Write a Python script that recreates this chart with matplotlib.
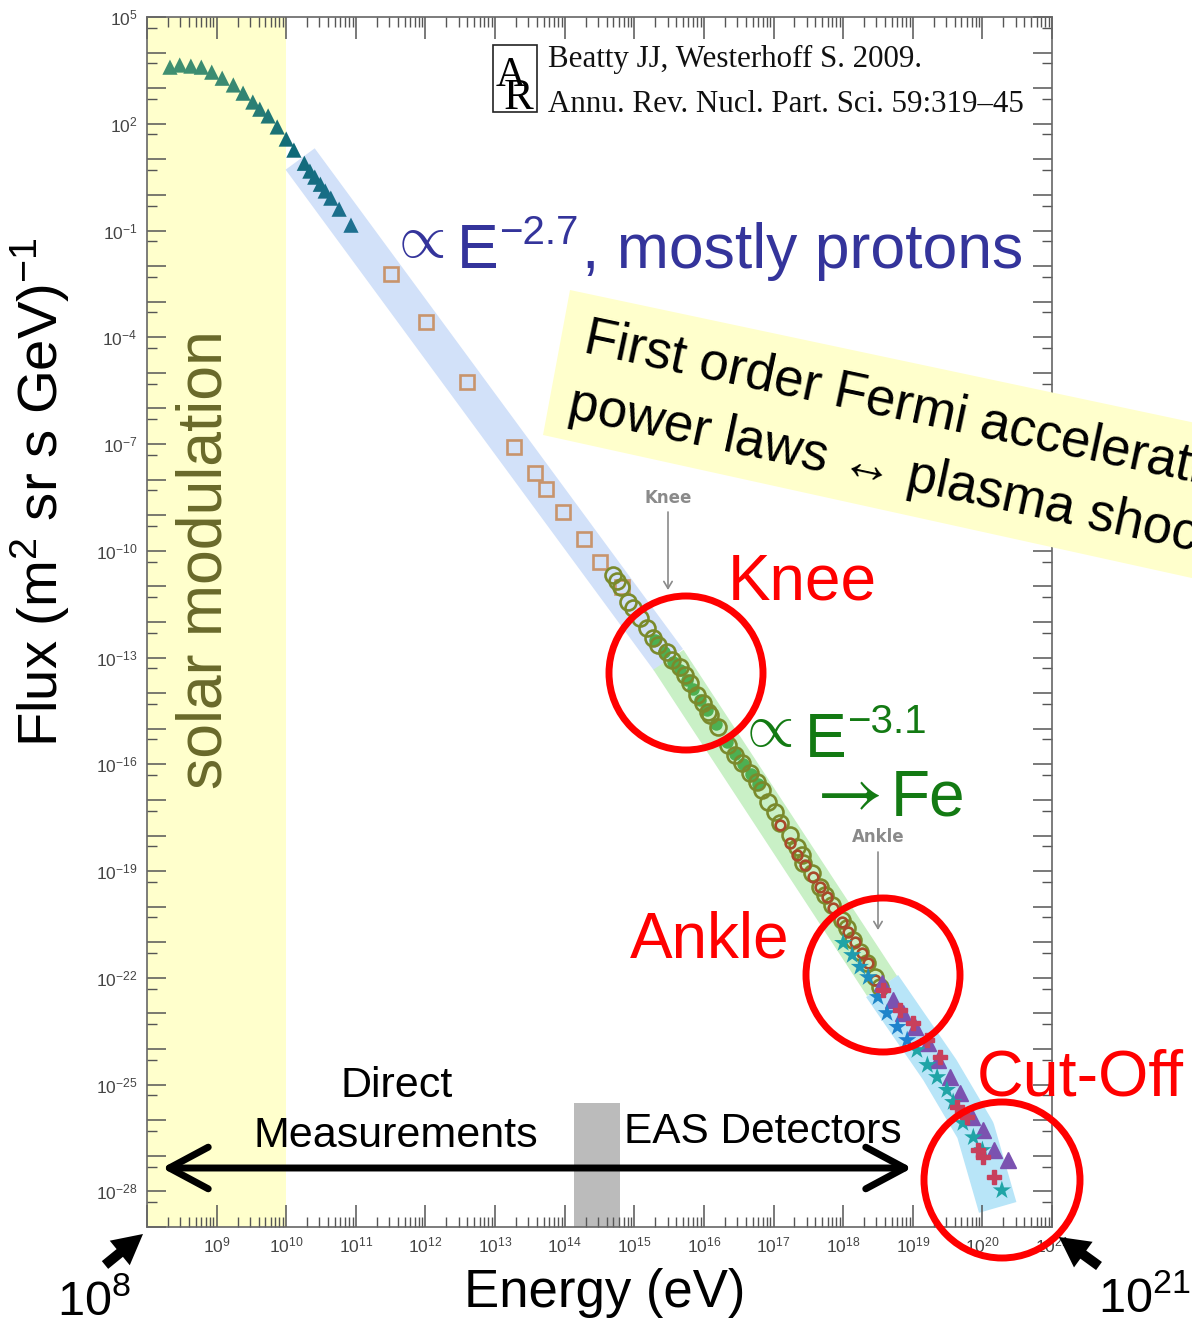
import numpy as np
import matplotlib
matplotlib.use('Agg')
import matplotlib.pyplot as plt
from matplotlib.patches import Ellipse, Polygon, Rectangle, FancyArrowPatch
from matplotlib.ticker import FixedLocator, FuncFormatter, NullFormatter
from matplotlib.colors import LinearSegmentedColormap

# ---------------- data (log10 E [eV], log10 flux) ----------------
tri_logE = [8.33, 8.47, 8.63, 8.78, 8.93, 9.08, 9.24, 9.38, 9.52, 9.62, 9.74,
            9.87, 10.00, 10.11, 10.26, 10.34, 10.41, 10.49, 10.56, 10.64, 10.76, 10.93]
tri_logF = [3.59, 3.65, 3.62, 3.59, 3.45, 3.28, 3.09, 2.86, 2.61, 2.41, 2.22,
            1.91, 1.57, 1.26, 0.89, 0.67, 0.50, 0.30, 0.11, -0.09, -0.40, -0.85]

sq_logE = [11.51, 12.01, 12.60, 13.27, 13.57, 13.73, 13.98, 14.28, 14.51, 14.82]
sq_logF = [-2.23, -3.58, -5.27, -7.07, -7.80, -8.25, -8.92, -9.66, -10.30, -11.03]

circ_logE = [14.70, 14.75, 14.81, 14.91, 14.98, 15.08, 15.18, 15.27, 15.34, 15.47,
             15.54, 15.66, 15.73, 15.80, 15.90, 15.99, 16.06, 16.09, 16.20, 16.35,
             16.45, 16.55, 16.66, 16.76, 16.84, 16.92, 17.02, 17.09, 17.24, 17.34,
             17.41, 17.43, 17.55, 17.67, 17.74, 17.84, 17.99, 18.06, 18.14, 18.24,
             18.34, 18.46, 18.53]
circ_logF = [-10.67, -10.86, -11.03, -11.43, -11.60, -11.88, -12.16, -12.44, -12.64, -12.83,
             -13.06, -13.26, -13.48, -13.71, -14.04, -14.27, -14.52, -14.61, -14.94, -15.45,
             -15.73, -15.96, -16.24, -16.49, -16.72, -17.05, -17.33, -17.64, -17.98, -18.32,
             -18.54, -18.77, -19.05, -19.44, -19.67, -19.95, -20.37, -20.60, -20.94, -21.27,
             -21.58, -21.98, -22.26]

green_logE = [15.30, 15.42, 15.55, 15.66, 15.75, 15.85, 15.95, 16.05, 16.17, 16.33,
              16.45, 16.56, 16.67, 16.78]
green_logF = [-12.50, -12.85, -13.12, -13.35, -13.62, -13.88, -14.18, -14.46, -14.86, -15.38,
              -15.72, -15.98, -16.28, -16.56]

brown_logE = [17.09, 17.24, 17.34, 17.45, 17.57, 17.67, 17.77, 17.86, 17.99, 18.07,
              18.17, 18.27, 18.36, 18.46]
brown_logF = [-17.70, -18.21, -18.54, -18.83, -19.16, -19.44, -19.72, -20.03, -20.43, -20.71,
              -20.99, -21.30, -21.58, -22.06]

star_logE = [18.00, 18.13, 18.24, 18.36, 18.50, 18.63, 18.78, 18.92, 19.06, 19.21,
             19.35, 19.49, 19.58, 19.72, 19.87, 20.00, 20.28]
star_logF = [-21.02, -21.36, -21.69, -21.98, -22.54, -22.99, -23.38, -23.75, -24.03, -24.45,
             -24.79, -25.15, -25.49, -26.08, -26.48, -26.84, -27.97]

ptri_logE = [18.56, 18.72, 18.86, 19.03, 19.22, 19.36, 19.54, 19.68, 19.85, 20.01, 20.16, 20.37]
ptri_logF = [-22.14, -22.62, -22.99, -23.38, -23.83, -24.31, -24.79, -25.24, -25.91, -26.28,
             -26.84, -27.12]

cross_logE = [18.57, 18.82, 19.01, 19.21, 19.39, 19.64, 19.78, 19.93, 20.01, 20.16]
cross_logF = [-22.34, -22.90, -23.27, -23.75, -24.23, -25.63, -25.91, -26.84, -27.04, -27.60]

# guide bands (log10 E, log10 flux)
band_blue_logE = [10.20, 15.49]
band_blue_logF = [1.01, -13.06]
band_green_logE = [15.49, 18.56]
band_green_logF = [-13.06, -22.23]
band_cyan_logE = [18.56, 19.39, 19.90, 20.22]
band_cyan_logF = [-22.23, -24.59, -26.28, -28.45]

x_label_exps = list(range(9, 22))
y_label_exps = list(range(5, -29, -3))

# ---------------- figure ----------------
W, H = 1192, 1319
plt.rcParams['font.family'] = ['Liberation Sans', 'DejaVu Sans']
plt.rcParams['mathtext.fontset'] = 'custom'
plt.rcParams['mathtext.rm'] = 'Liberation Sans'
plt.rcParams['mathtext.it'] = 'Liberation Sans:italic'
plt.rcParams['mathtext.bf'] = 'Liberation Sans:bold'

fig = plt.figure(figsize=(W / 100, H / 100), dpi=100)
fig.patch.set_facecolor('white')

def fx(px):
    return px / W

def fy(py):
    return 1 - py / H

ax = fig.add_axes([fx(147), fy(1227), (1052 - 147) / W, (1227 - 17) / H])
ax.set_xscale('log')
ax.set_yscale('log')
ax.set_xlim(1e8, 1e21)
ax.set_ylim(1e-29, 1e5)

p = lambda a: 10.0 ** np.asarray(a)

# background regions
ax.axvspan(1e8, 1e10, color='#ffffcc', zorder=0, lw=0)
ax.axvspan(10 ** 14.13, 10 ** 14.79, ymin=0, ymax=(1227 - 1103) / 1210,
           color='#bbbbbb', zorder=0.5, lw=0)

# bands
ax.plot(p(band_blue_logE), p(band_blue_logF), color='#d2e1f9', lw=26,
        solid_capstyle='butt', zorder=1)
ax.plot(p(band_green_logE), p(band_green_logF), color='#c9f0c6', lw=26,
        solid_capstyle='butt', zorder=1.1)
ax.plot(p(band_cyan_logE), p(band_cyan_logF), color='#b8e5f8', lw=28,
        solid_capstyle='butt', solid_joinstyle='round', zorder=1.2)

# data
cmap_tri = LinearSegmentedColormap.from_list('tri', ['#3f9070', '#3a8a72', '#0f6a78', '#1f7092'])
tri_cols = [cmap_tri(min(max((e - 8.3) / 2.7, 0), 1)) for e in tri_logE]
ax.scatter(p(tri_logE), p(tri_logF), marker='^', s=120, c=tri_cols, lw=0, zorder=3)

ax.plot(p(sq_logE), p(sq_logF), ls='none', marker='s', ms=10, mfc='none',
        mec='#c8946c', mew=1.9, zorder=3)

ax.plot(p(green_logE), p(green_logF), ls='none', marker='o', ms=9, mfc='#4db052',
        mec='#4db052', mew=0, zorder=3)
ax.plot(p(circ_logE), p(circ_logF), ls='none', marker='o', ms=11.5, mfc='none',
        mec='#7a8a2c', mew=1.9, zorder=3.2)
ax.plot(p(brown_logE), p(brown_logF), ls='none', marker='o', ms=7, mfc='none',
        mec='#a84a2a', mew=1.9, zorder=3.3)

cmap_star = LinearSegmentedColormap.from_list('star', ['#1fa4a6', '#1e86c8', '#1e7fd0'])
star_cols = [cmap_star(min(max((e - 18.0) / 1.0, 0), 1)) for e in star_logE]
ax.scatter(p(star_logE), p(star_logF), marker='*', s=190, c=star_cols, lw=0, zorder=3.4)
ax.plot(p(ptri_logE), p(ptri_logF), ls='none', marker='^', ms=11, mfc='#7b52b0',
        mec='#7b52b0', zorder=3.3)
ax.plot(p(cross_logE), p(cross_logF), ls='none', marker='P', ms=10, mfc='#c8405c',
        mec='#c8405c', zorder=3.5)

# axes style
for s in ax.spines.values():
    s.set_color('#666666')
    s.set_linewidth(1.2)

ax.xaxis.set_major_locator(FixedLocator(10.0 ** np.arange(8, 22)))
ax.xaxis.set_minor_locator(FixedLocator([m * 10.0 ** k for k in range(8, 21) for m in range(2, 10)]))
ax.yaxis.set_major_locator(FixedLocator(10.0 ** np.arange(-29, 6)))
ax.yaxis.set_minor_locator(FixedLocator([5 * 10.0 ** k for k in range(-29, 5)]))

def xfmt(v, pos):
    k = int(round(np.log10(v)))
    return r'$\mathregular{10^{%d}}$' % k if k in x_label_exps else ''

def yfmt(v, pos):
    k = int(round(np.log10(v)))
    return r'$\mathregular{10^{%d}}$' % k if k in y_label_exps else ''

ax.xaxis.set_major_formatter(FuncFormatter(xfmt))
ax.yaxis.set_major_formatter(FuncFormatter(yfmt))
ax.xaxis.set_minor_formatter(NullFormatter())
ax.yaxis.set_minor_formatter(NullFormatter())

ax.tick_params(axis='x', which='major', direction='in', length=16, width=1.1,
               color='#555555', top=True, bottom=True, labelsize=12.5, labelcolor='#444444', pad=6)
ax.tick_params(axis='x', which='minor', direction='in', length=7, width=1.0,
               color='#555555', top=True, bottom=True)
ax.tick_params(axis='y', which='major', direction='in', length=14, width=1.1,
               color='#555555', left=True, right=True, labelsize=12.5, labelcolor='#444444', pad=7)
ax.tick_params(axis='y', which='minor', direction='in', length=7, width=1.0,
               color='#555555', left=True, right=True)

# ---------------- annotations ----------------
def T(px, py, s, **kw):
    kw.setdefault('va', 'baseline')
    return fig.text(fx(px), fy(py), s, **kw)

blue = '#34349b'
T(388, 257, r'$\propto$', fontsize=44, color=blue, math_fontfamily='cm')
T(457, 268, 'E', fontsize=45, color=blue)
T(499, 244, '\u22122.7', fontsize=29, color=blue)
T(582, 268, ', mostly protons', fontsize=45, color=blue)

green = '#137a13'
T(736, 746, r'$\propto$', fontsize=44, color=green, math_fontfamily='cm')
T(805, 757, 'E', fontsize=45, color=green)
T(847, 733, '\u22123.1', fontsize=29, color=green)
T(806, 812, r'$\rightarrow$', fontsize=52, color=green, math_fontfamily='stix')
T(891, 815, 'Fe', fontsize=46, color=green)

red = '#ff0000'
T(728, 600, 'Knee', fontsize=46, color=red)
T(630, 958, 'Ankle', fontsize=46, color=red)
T(977, 1095, 'Cut-Off', fontsize=46.5, color=red)

for (cx, cy, r) in [(686, 673, 77), (883, 975, 77), (1002, 1180, 78)]:
    fig.add_artist(Ellipse((fx(cx), fy(cy)), 2 * r / W, 2 * r / H, transform=fig.transFigure,
                           fill=False, ec=red, lw=5, zorder=5))

# small gray labels with arrows
for (lbl, x0, yt, ya, yb) in [('Knee', 668, 503, 512, 590), ('Ankle', 878, 842, 852, 930)]:
    T(x0, yt, lbl, fontsize=12, color='#8a8a8a', ha='center', family=['DejaVu Sans'], weight='bold')
    fig.add_artist(FancyArrowPatch((fx(x0), fy(ya)), (fx(x0), fy(yb)),
                   transform=fig.transFigure, arrowstyle='->,head_length=5,head_width=3',
                   color='#8a8a8a', lw=1.2, mutation_scale=1, shrinkA=0, shrinkB=0, zorder=4))

# Fermi box
ang = 12.0
t = np.tan(np.radians(ang))
box = [(570, 290), (1300, 290 + 730 * t), (1300 - 27, 435 + 757 * t), (543, 435)]
fig.add_artist(Polygon([(fx(a), fy(b)) for a, b in box], closed=True, transform=fig.transFigure,
                       fc='#ffffcc', ec='none', zorder=4))
T(582, 352, 'First order Fermi acceleration', fontsize=38, color='black', rotation=-ang,
  rotation_mode='anchor', ha='left', zorder=6)
T(566, 417, 'power laws \u2194 plasma shocks', fontsize=38, color='black', rotation=-ang,
  rotation_mode='anchor', ha='left', zorder=6)

# solar modulation
T(205, 560, 'solar modulation', fontsize=45, color='#69692a', rotation=90, ha='center', va='center')

# direct / EAS
T(397, 1097, 'Direct', fontsize=31, color='black', ha='center')
T(396, 1147, 'Measurements', fontsize=31, color='black', ha='center')
T(624, 1143, 'EAS Detectors', fontsize=30.5, color='black', ha='left')
fig.add_artist(FancyArrowPatch((fx(162), fy(1168)), (fx(912), fy(1168)),
               transform=fig.transFigure, arrowstyle='<->,head_length=1.4,head_width=0.75',
               mutation_scale=20, lw=5, color='black', shrinkA=0, shrinkB=0,
               capstyle='round', joinstyle='round', zorder=6))

# axis labels
T(605, 1307, 'Energy (eV)', fontsize=38, color='black', ha='center')
T(40, 492, r'Flux (m$^{\mathregular{2}}$ sr s GeV)$^{\mathregular{-1}}$', fontsize=40.5, color='black',
  rotation=90, ha='center', va='center')

# 10^8 and 10^21 with arrows
T(57, 1315, r'10$^{\mathregular{8}}$', fontsize=35, color='black', ha='left')
T(1098, 1312, r'10$^{\mathregular{21}}$', fontsize=35, color='black', ha='left')
for (a, b) in [((105, 1265), (143, 1234)), ((1099, 1266), (1059, 1237))]:
    fig.add_artist(FancyArrowPatch((fx(a[0]), fy(a[1])), (fx(b[0]), fy(b[1])),
                   transform=fig.transFigure,
                   arrowstyle='simple,head_length=0.9,head_width=0.95,tail_width=0.3',
                   mutation_scale=24, lw=0, color='black', shrinkA=0, shrinkB=0, zorder=6))

# citation with AR logo
fig.add_artist(Rectangle((fx(493), fy(112)), 44 / W, 67 / H, transform=fig.transFigure,
                         fill=False, ec='#222222', lw=1.2, zorder=6))
T(511, 86, 'A', fontsize=30, color='black', ha='center', family=['Liberation Serif'])
T(519, 109, 'R', fontsize=32, color='black', ha='center', family=['Liberation Serif'])
T(548, 67, 'Beatty JJ, Westerhoff S. 2009.', fontsize=22.3, color='#111111', family=['Liberation Serif'])
T(548, 112, 'Annu. Rev. Nucl. Part. Sci. 59:319\u201345', fontsize=22.3, color='#111111',
  family=['Liberation Serif'])

fig.savefig('out.png', dpi=100)
